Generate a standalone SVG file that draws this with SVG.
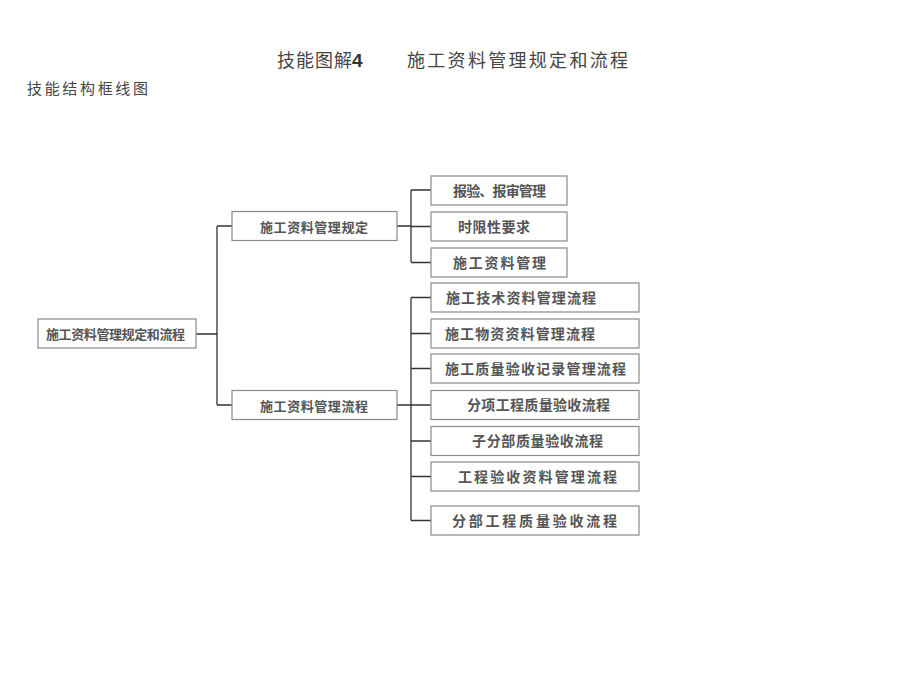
<svg xmlns="http://www.w3.org/2000/svg" width="906" height="682" viewBox="0 0 906 682">
<style>
.bx{fill:#fff;stroke:#8a8a8a;stroke-width:1.2}
.t{font-family:"Noto Sans CJK SC","Liberation Sans",sans-serif;font-weight:bold;fill:#555;font-size:14px}
.ttl{font-family:"Noto Sans CJK SC","Liberation Sans",sans-serif;fill:#444;font-size:18px}
.ln{fill:none;stroke:#333;stroke-width:1.3}
</style>
<rect width="906" height="682" fill="#fff"/>
<text class="ttl" x="277" y="67" textLength="75" lengthAdjust="spacing">技能图解</text>
<text x="352" y="67" font-family="Liberation Sans,sans-serif" font-weight="bold" font-size="19" fill="#333">4</text>
<text class="ttl" x="407" y="67" textLength="221" lengthAdjust="spacing">施工资料管理规定和流程</text>
<text class="ttl" x="27" y="94" font-size="15" textLength="121" lengthAdjust="spacing" style="font-size:15px">技能结构框线图</text>
<g id="connectors">
<path class="ln" d="M196 334H217M217 226V405M217 226H232M217 405H232"/>
<path class="ln" d="M397 226H411M411 190V262M411 190H431M411 226.5H431M411 262.5H431"/>
<path class="ln" d="M397 405H411M411 297.5V520.5M411 297.5H431M411 333.5H431M411 368.5H431M411 405H431M411 441H431M411 476.5H431M411 520.5H431"/>
</g>
<g id="root"><rect class="bx" x="38" y="319" width="158" height="29"/><text class="t" x="46" y="339" textLength="139" lengthAdjust="spacing" style="font-size:13px">施工资料管理规定和流程</text></g>
<g id="n1"><rect class="bx" x="232" y="211.5" width="165" height="29"/><text class="t" x="260" y="231.5" textLength="108" lengthAdjust="spacing" style="font-size:13px">施工资料管理规定</text></g>
<g id="n2"><rect class="bx" x="232" y="390.5" width="165" height="29"/><text class="t" x="260" y="410.5" textLength="108" lengthAdjust="spacing" style="font-size:13px">施工资料管理流程</text></g>
<g id="a1"><rect class="bx" x="431" y="176" width="136" height="29"/><text class="t" x="453" y="195.5" textLength="93" lengthAdjust="spacing">报验、报审管理</text></g>
<g id="a2"><rect class="bx" x="431" y="212" width="136" height="29"/><text class="t" x="458" y="231.5" textLength="72" lengthAdjust="spacing">时限性要求</text></g>
<g id="a3"><rect class="bx" x="431" y="248" width="136" height="29"/><text class="t" x="453" y="267.5" textLength="93" lengthAdjust="spacing">施工资料管理</text></g>
<g id="b1"><rect class="bx" x="431" y="283" width="208" height="29"/><text class="t" x="446" y="302.5" textLength="150" lengthAdjust="spacing">施工技术资料管理流程</text></g>
<g id="b2"><rect class="bx" x="431" y="319" width="208" height="29"/><text class="t" x="445" y="338.5" textLength="150" lengthAdjust="spacing">施工物资资料管理流程</text></g>
<g id="b3"><rect class="bx" x="431" y="354" width="208" height="29"/><text class="t" x="445" y="373.5" textLength="181" lengthAdjust="spacing">施工质量验收记录管理流程</text></g>
<g id="b4"><rect class="bx" x="431" y="390.5" width="208" height="29"/><text class="t" x="467" y="410" textLength="143" lengthAdjust="spacing">分项工程质量验收流程</text></g>
<g id="b5"><rect class="bx" x="431" y="426.5" width="208" height="29"/><text class="t" x="472" y="446" textLength="131" lengthAdjust="spacing">子分部质量验收流程</text></g>
<g id="b6"><rect class="bx" x="431" y="462" width="208" height="29"/><text class="t" x="458" y="481.5" textLength="159" lengthAdjust="spacing">工程验收资料管理流程</text></g>
<g id="b7"><rect class="bx" x="431" y="506" width="208" height="29"/><text class="t" x="452" y="525.5" textLength="165" lengthAdjust="spacing">分部工程质量验收流程</text></g>
</svg>
